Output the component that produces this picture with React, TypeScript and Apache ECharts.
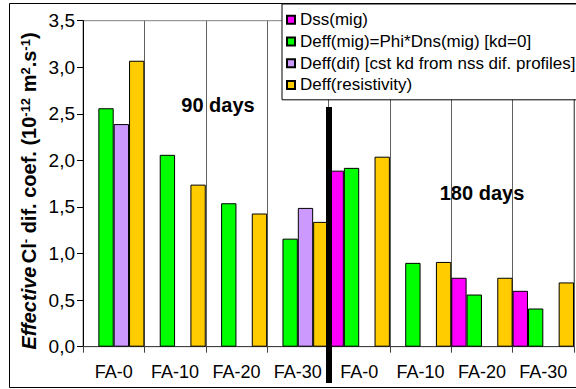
import React, { useEffect, useRef } from "react";
import * as echarts from "echarts";

// Mix labels, two curing ages (90 days, then 180 days)
const categories = ["FA-0", "FA-10", "FA-20", "FA-30", "FA-0", "FA-10", "FA-20", "FA-30"];

// Effective chloride diffusion coefficients, 10^-12 m2/s
const dssMig = [null, null, null, null, 1.89, null, 0.74, 0.6];
const deffMig = [2.56, 2.06, 1.54, 1.16, 1.92, 0.9, 0.56, 0.41];
const deffDif = [2.39, null, null, 1.49, null, null, null, null];
const deffRes = [3.07, 1.74, 1.43, 1.34, 2.04, 0.91, 0.74, 0.69];

const seriesNames = [
  "Dss(mig)",
  "Deff(mig)=Phi*Dns(mig) [kd=0]",
  "Deff(dif) [cst kd from nss dif. profiles]",
  "Deff(resistivity)",
];
const seriesColors = ["#FF00FF", "#00FF00", "#CC99FF", "#FFCC00"];

const FONT = "'Liberation Sans', Arial, sans-serif";

export default function App() {
  const ref = useRef<HTMLDivElement>(null);

  useEffect(() => {
    if (!ref.current) return;
    const chart = echarts.init(ref.current, null, { renderer: "svg" });
    const values = [dssMig, deffMig, deffDif, deffRes];

    chart.setOption({
      animation: false,
      grid: {
        left: 83,
        right: 2,
        top: 20.7,
        bottom: 42.3,
        show: true,
        borderColor: "#808080",
        borderWidth: 1,
        backgroundColor: "transparent",
      },
      legend: {
        orient: "vertical",
        left: 282,
        top: 4,
        padding: [5, 40, 4, 4],
        itemGap: 0,
        itemWidth: 8,
        itemHeight: 8,
        icon: "rect",
        backgroundColor: "#fff",
        borderColor: "#000",
        borderWidth: 1,
        textStyle: { fontFamily: FONT, fontSize: 17, color: "#000", lineHeight: 21.7 },
        data: seriesNames,
      },
      xAxis: {
        type: "category",
        data: categories.map((_, i) => String(i)),
        axisLine: { lineStyle: { color: "#404040", width: 1 } },
        axisTick: { show: true, interval: 0, length: 6, lineStyle: { color: "#404040" } },
        axisLabel: {
          interval: 0,
          hideOverlap: false,
          formatter: (v: string) => categories[Number(v)],
          margin: 16,
          fontFamily: FONT,
          fontSize: 18,
          color: "#000",
        },
        splitLine: { show: true, interval: 0, lineStyle: { color: "#606060", width: 1 } },
      },
      yAxis: {
        type: "value",
        min: 0,
        max: 3.5,
        interval: 0.5,
        axisLine: { show: true, lineStyle: { color: "#000", width: 1 } },
        axisTick: { show: true, length: 6, lineStyle: { color: "#000" } },
        axisLabel: {
          formatter: (v: number) => v.toFixed(1).replace(".", ","),
          margin: 8,
          fontFamily: FONT,
          fontSize: 19,
          color: "#000",
        },
        splitLine: { show: false },
      },
      series: seriesNames.map((name, i) => ({
        name,
        type: "bar",
        data: values[i].map((v) => (v === null ? "-" : v)),
        barGap: "0%",
        barCategoryGap: "0%",
        itemStyle: { color: seriesColors[i], borderColor: "#000", borderWidth: 1 },
      })),
      graphic: [
        {
          type: "rect",
          z: -10,
          shape: { x: 9.5, y: 3.5, width: 640, height: 384 },
          style: { fill: "none", stroke: "#000", lineWidth: 1 },
        },
        {
          type: "text",
          z: -5,
          x: 218,
          y: 105,
          style: {
            text: "90 days",
            font: `bold 20px ${FONT}`,
            fill: "#000",
            align: "center",
            verticalAlign: "middle",
          },
        },
        {
          type: "text",
          z: -5,
          x: 482,
          y: 193,
          style: {
            text: "180 days",
            font: `bold 20px ${FONT}`,
            fill: "#000",
            align: "center",
            verticalAlign: "middle",
          },
        },
        {
          type: "line",
          z: 100,
          shape: { x1: 329, y1: 107, x2: 329, y2: 383 },
          style: { stroke: "#000", lineWidth: 6 },
        },
        {
          type: "text",
          x: 29,
          y: 191,
          rotation: Math.PI / 2,
          style: {
            text:
              "{it|Effective} {b|Cl}{sup|-}{b| dif. coef. (10}{sup|-12}{b| m}{sup|2}{b|.s}{sup|-1}{b|)}",
            align: "center",
            verticalAlign: "middle",
            fill: "#000",
            rich: {
              it: { fontFamily: FONT, fontSize: 20, fontWeight: "bold", fontStyle: "italic", fill: "#000" },
              b: { fontFamily: FONT, fontSize: 20, fontWeight: "bold", fill: "#000" },
              sup: { fontFamily: FONT, fontSize: 13, fontWeight: "bold", fill: "#000", verticalAlign: "top" },
            },
          },
        },
      ],
    });

    return () => chart.dispose();
  }, []);

  return (
    <div
      ref={ref}
      style={{ position: "absolute", left: 0, top: 0, width: 576, height: 389, background: "#fff" }}
    />
  );
}
